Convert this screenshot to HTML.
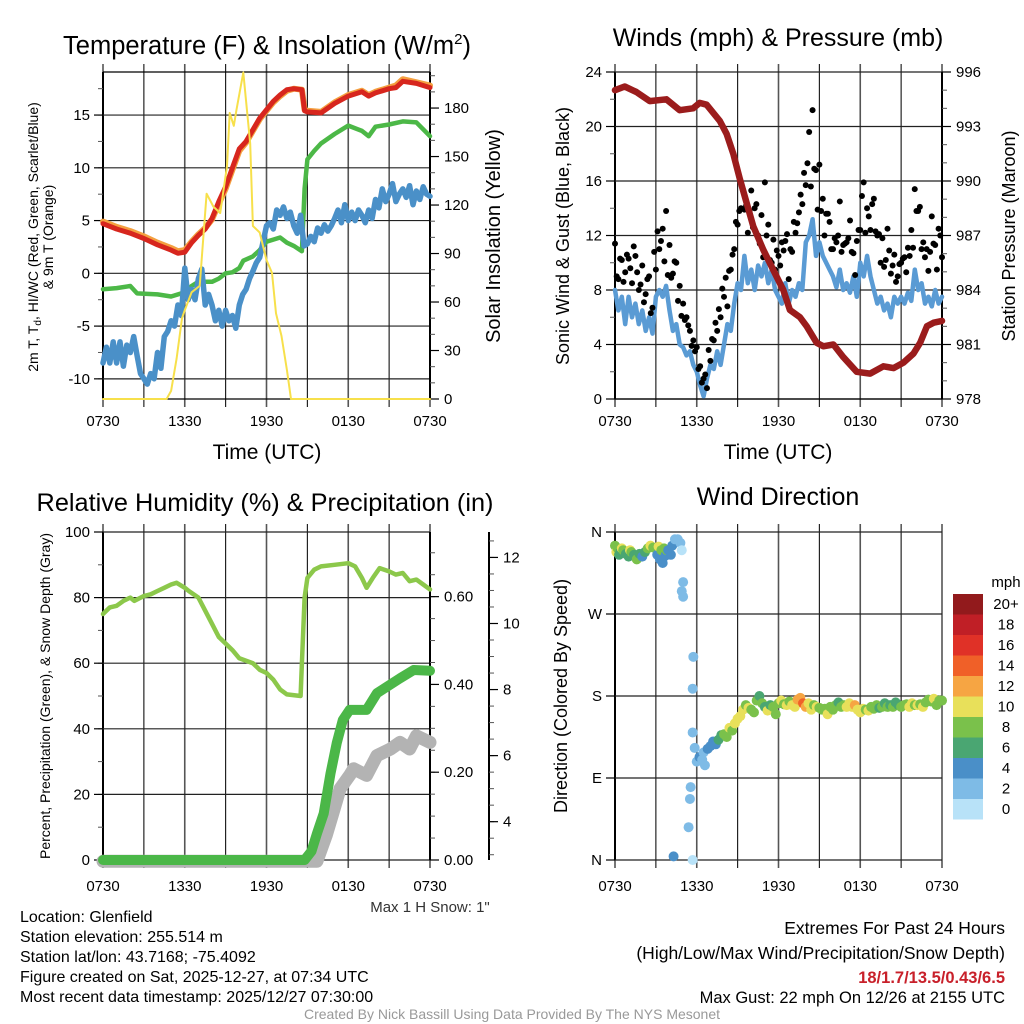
<!DOCTYPE html>
<html><head><meta charset="utf-8"><style>
html,body{margin:0;padding:0;background:#fff;}
svg{display:block;font-family:"Liberation Sans",Arial,sans-serif;}
</style></head><body>
<svg id="fig" width="1024" height="1024" viewBox="0 0 1024 1024" xmlns="http://www.w3.org/2000/svg">
<rect width="1024" height="1024" fill="#fff"/>
<g id="layer"></g>
<text x="267" y="54" font-size="25.5" text-anchor="middle">Temperature (F) &amp; Insolation (W/m<tspan dy="-10" font-size="15">2</tspan><tspan dy="10">)</tspan></text>
<text x="778" y="46" font-size="25" text-anchor="middle">Winds (mph) &amp; Pressure (mb)</text>
<text x="265" y="511" font-size="25.3" text-anchor="middle">Relative Humidity (%) &amp; Precipitation (in)</text>
<text x="778" y="505" font-size="25" text-anchor="middle">Wind Direction</text>
<text x="267" y="459" font-size="21" text-anchor="middle">Time (UTC)</text>
<text x="778" y="459" font-size="21" text-anchor="middle">Time (UTC)</text>
<text transform="translate(38,237) rotate(-90)" font-size="14" text-anchor="middle">2m T, T<tspan font-size="10" dy="3">d</tspan><tspan dy="-3">, HI/WC (Red, Green, Scarlet/Blue)</tspan></text>
<text transform="translate(53,237) rotate(-90)" font-size="14" text-anchor="middle">&amp; 9m T (Orange)</text>
<text transform="translate(500,236) rotate(-90)" font-size="20" text-anchor="middle">Solar Insolation (Yellow)</text>
<text transform="translate(569,236) rotate(-90)" font-size="18" text-anchor="middle">Sonic Wind &amp; Gust (Blue, Black)</text>
<text transform="translate(1015,236) rotate(-90)" font-size="18" text-anchor="middle">Station Pressure (Maroon)</text>
<text transform="translate(50,696) rotate(-90)" font-size="14" text-anchor="middle">Percent, Precipitation (Green), &amp; Snow Depth (Gray)</text>
<text transform="translate(567,696) rotate(-90)" font-size="18" text-anchor="middle">Direction (Colored By Speed)</text>
<text x="430" y="912" font-size="15" text-anchor="middle" fill="#333">Max 1 H Snow: 1"</text>
<g font-size="16">
<text x="20" y="922">Location: Glenfield</text>
<text x="20" y="942">Station elevation: 255.514 m</text>
<text x="20" y="962">Station lat/lon: 43.7168; -75.4092</text>
<text x="20" y="982">Figure created on Sat, 2025-12-27, at 07:34 UTC</text>
<text x="20" y="1002">Most recent data timestamp: 2025/12/27 07:30:00</text>
</g>
<g font-size="17.5" text-anchor="end">
<text x="1005" y="934">Extremes For Past 24 Hours</text>
<text x="1005" y="959">(High/Low/Max Wind/Precipitation/Snow Depth)</text>
<text x="1005" y="983" fill="#c8202a" font-weight="bold" font-size="16.5">18/1.7/13.5/0.43/6.5</text>
<text x="1005" y="1003" font-size="16.5">Max Gust: 22 mph On 12/26 at 2155 UTC</text>
</g>
<text x="512" y="1019" font-size="14" fill="#999" text-anchor="middle">Created By Nick Bassill Using Data Provided By The NYS Mesonet</text>
</svg>
<script>
// ---- data ----
var timeLabels = ["0730","1330","1930","0130","0730"];
var tempH = [0,1,2,3,4,5,5.5,6,6.5,7,7.5,8,8.5,9,9.5,10,10.5,11,11.5,12,12.5,13,13.5,14,14.6,14.8,15,16,17,18,19,19.5,20,21,21.5,22,23,24];
var tempV = [4.7,4.2,3.8,3.3,2.7,2.2,1.9,2.0,2.9,3.6,4.2,5.2,6.8,8.2,10,11.8,12.5,13.6,14.7,15.5,16.3,16.9,17.4,17.5,17.4,15.4,15.3,15.2,16.1,16.8,17.2,16.8,17.1,17.5,17.6,18.2,18.0,17.6];
var temp9mV = [4.9,4.4,4.0,3.5,2.9,2.4,2.1,2.2,3.0,3.7,4.3,5.1,6.6,8.0,9.8,11.6,12.4,13.5,14.6,15.4,16.2,16.8,17.3,17.5,17.4,15.5,15.4,15.3,16.2,16.9,17.3,16.9,17.2,17.6,17.8,18.4,18.1,17.8];
var dewH = [0,1,2,2.5,4,5,6,6.5,7,8,8.5,9,9.5,10,10.3,11,11.5,12,12.5,13,13.5,14,14.6,14.8,15,15.5,16,17,17.5,18,19,19.5,20,21,22,23,24];
var dewV = [-1.5,-1.4,-1.2,-1.9,-2.0,-2.2,-1.8,-1.2,-0.8,-0.8,-0.5,0,0.1,0.5,1.2,1.6,2.2,3.0,3.2,3.4,2.9,2.6,2.1,8.0,10.8,11.6,12.3,13.2,13.6,14.0,13.5,13.0,13.9,14.1,14.4,14.3,13.0];
// wind chill, every 15 min
var wcV = [-8.5,-7,-8.5,-6.5,-8.5,-6.5,-8.8,-6.8,-7.5,-6.0,-7.8,-9.5,-10,-10.5,-9.5,-10,-7.5,-9,-6.0,-5.5,-4.5,-5,-3.0,-4,0.5,-2.5,-1.5,-2.5,-0.5,0.4,-3.0,-2.0,-3.0,-4.5,-3.5,-5.0,-3.5,-4.5,-4,-5.2,-3.0,-2,-1.5,-0.5,0.2,1.0,1.5,3,4.5,4.8,4.2,6.0,5.5,6.3,5.2,5.8,4.5,3.8,5.5,2.6,2.8,3.5,3.0,4.3,3.8,4.6,4.0,4.5,5.2,6.0,4.8,6.5,5.0,5.8,5.0,6.0,5.5,4.8,6.0,5.2,7.0,6.2,8.0,6.8,7.5,8.5,6.8,7.5,8.0,7.2,8.3,6.5,7.8,7.0,8.2,7.5,7.3];
var solarH = [0,4.67,5.0,5.4,5.8,6.0,6.5,7.1,7.6,8.1,8.6,9.1,9.3,9.6,9.8,10.3,10.8,11.0,11.5,12.0,12.4,12.7,13.1,13.5,13.8,24];
var solarV = [0,0,5,25,50,55,66,70,127,119,115,144,177,169,179,202,158,107,103,86,78,53,39,18,0,0];
// sonic wind, every 15 min
var windV = [8,6.5,7.5,5.5,7.5,6,7,5.5,6.5,5,6,4.8,7.5,8,7.5,8.3,6.5,5.0,5.5,4.0,3.8,3.2,3.5,2.5,2.0,1.0,0.2,1.5,2.5,2.2,3.5,2.5,4.0,5.5,5.0,7.0,8.5,8.0,10.5,8.5,9.5,8.0,9.8,9.0,10,8.5,9.5,8.0,7.5,7.0,8.5,7.0,8,7.5,8.5,8.0,11.5,12.0,13.2,10.5,11.5,10.5,10.0,9.5,9.0,8.2,9.5,8.0,8.5,7.8,9.0,7.5,10.0,9.0,10.5,9.0,8.0,7.0,7.5,6.5,7.0,6.0,7.5,7.0,7.5,7.0,7.8,7.2,9.5,8.0,8.5,7.0,7.5,6.8,8.0,7.0,7.5];
var gustA = [11.4,8.8,10.2,9.3,10.3,8.5,10.5,8.0,9.8,7.7,9.0,6.7,9.5,11.0,12.5,13.8,11.3,9.2,10.0,8.3,7.0,6.0,5.0,4.3,3.8,2.4,1.5,0.8,2.8,4.3,5.0,6.0,7.5,6.8,9.5,11.0,12.8,14.0,13.9,12.2,15.3,14.0,12.0,13.5,15.9,12.8,10.0,9.5,10.5,11.5,11.6,8.8,10.8,12.2,13.7,14.3,15.7,19.6,21.2,16.8,17.2,14.7,13.6,13.0,11.0,11.5,14.5,11.3,11.5,13.1,10.7,11.6,12.4,15.9,14.0,12.4,14.7,12.0,10.0,9.7,12.5,9.2,10.6,9.0,10.0,10.4,11.1,12.4,15.4,13.8,11.0,10.4,9.4,13.4,11.3,12.5,10.4];
var gustB = [9.0,10.3,8.6,10.6,9.6,11.2,9.3,8.4,7.1,8.8,6.3,10.8,12.3,11.6,10.1,9.1,8.9,10.1,7.2,6.1,5.8,5.4,3.9,3.5,2.2,1.2,1.8,3.6,4.4,5.6,6.6,8.1,8.9,9.4,10.6,13.0,13.8,15.4,14.2,13.8,12.6,14.3,11.4,10.4,12.0,10.2,11.7,10.9,9.8,10.9,12.1,11.0,13.0,12.9,15.0,16.6,17.3,15.6,16.9,13.9,13.8,12.0,13.6,11.0,11.8,12.0,10.8,11.4,11.8,10.8,9.1,12.4,14.9,12.2,13.4,14.3,12.3,12.1,11.8,10.2,10.9,9.8,8.6,9.9,10.3,9.3,10.5,11.1,13.8,14.1,11.5,11.0,10.8,11.4,9.5,12.0];
var presH = [0,0.71,1.57,2.55,3.77,4.75,5.73,6.22,6.72,7.70,8.19,8.68,9.17,9.66,10.15,10.89,11.62,12.35,12.84,13.58,14.07,14.80,15.29,16.03,16.76,17.74,18.72,19.70,20.44,21.17,21.91,22.40,22.89,23.38,24];
var presV = [995.0,995.2,994.9,994.4,994.5,993.9,994.0,994.3,994.2,993.3,992.6,991.5,990.1,988.8,987.5,986.2,985.1,984.0,982.9,982.5,982.0,981.1,980.9,981.0,980.3,979.5,979.4,979.8,979.7,980.0,980.5,981.1,982.0,982.2,982.3];
var rhH = [0,0.5,1,1.5,2,2.3,3,3.5,4,4.5,5,5.4,6,6.3,7,7.5,8,8.5,9,9.5,10,11,11.5,12,12.5,13,13.5,14.5,14.6,14.8,15,15.5,16,17,18,18.5,19,19.35,19.8,20.3,21,21.5,22,22.5,23,23.5,24];
var rhV = [75,77,77.5,79,80,79,80.5,81,82,83,84,84.5,83,82,80,76,72,68,66,64,61.5,60,58,57,55,52,50.5,50,60,80,86,88.5,89.5,90,90.5,89.5,86,83,86,89,88,87,87.5,85,85.5,84,82.5];
var precipH = [0,14.8,15.3,15.7,16.2,16.7,17.15,17.6,18.1,19.35,20.1,21.1,21.8,22.8,24];
var precipV = [0,0,0.02,0.06,0.106,0.197,0.266,0.319,0.342,0.342,0.38,0.40,0.414,0.433,0.431];
var snowH = [0,15.7,16.4,16.9,17.4,18.1,18.4,19.35,20.1,21.1,21.8,22.5,23,24];
var snowV = [2.8,2.8,3.6,4.3,5.0,5.4,5.6,5.4,6.0,6.2,6.4,6.2,6.6,6.4];
var dirH = [0.0,0.1,0.2,0.3,0.4,0.5,0.6,0.8,1.0,1.1,1.2,1.4,1.6,1.8,2.0,2.2,2.4,2.6,2.8,3.0,3.1,3.2,3.3,3.4,3.5,3.6,3.7,3.8,3.9,4.1,4.2,4.3,4.4,4.6,4.8,4.9,5.0,4.9,5.0,5.75,5.7,5.7,5.85,5.55,5.5,5.4,5.7,6.0,6.2,6.4,6.5,6.6,6.8,7.0,7.2,7.4,7.6,7.8,8.0,8.2,8.4,8.6,8.8,9.0,9.2,9.4,9.6,9.8,10.0,10.2,10.4,10.6,10.8,11.0,11.2,11.4,11.6,11.8,12.0,12.2,12.4,12.6,12.8,13.0,13.2,13.4,13.6,13.8,14.0,14.2,14.4,14.6,14.8,15.0,15.2,15.4,15.6,15.8,16.0,16.2,16.4,16.6,16.8,17.0,17.2,17.4,17.6,17.8,18.0,18.2,18.4,18.6,18.8,19.0,19.2,19.4,19.6,19.8,20.0,20.2,20.4,20.6,20.8,21.0,21.2,21.4,21.6,21.8,22.0,22.2,22.4,22.6,22.8,23.0,23.2,23.4,23.6,23.8,24.0];
var dirDeg = [345,338,342,335,338,342,340,336,333,340,338,335,330,336,333,338,342,345,343,342,335,344,330,340,326,342,334,340,340,335,345,4,352,352,348,340,305,295,289,223,188,140,123,80,67,36,0,108,113,110,118,104,122,125,130,127,132,137,138,135,145,142,150,155,158,165,170,167,165,162,175,180,172,168,164,170,168,160,172,175,171,170,174,170,168,176,178,172,168,172,165,170,168,167,165,166,160,168,165,170,173,168,170,168,172,168,170,165,162,166,165,164,168,166,170,167,168,172,168,170,168,173,170,168,170,171,168,172,170,170,171,168,173,176,174,177,170,175,175];
var dirSpd = [7,9,7,6,6,9,8,6,6,9,7,6,8,6,4,5,8,9,8,8,4,9,4,8,4,7,3,8,3,3,4,3,2,2,1,0,2,1,2,1,1,1,1,2,1,1,0,2,3,2,1,2,3,4,4,4,5,6,8,7,9,8,10,9,10,10,8,10,8,7,7,6,8,6,9,6,8,7,8,10,8,9,8,10,9,11,12,13,12,10,9,8,9,8,8,8,10,8,7,8,6,8,8,9,10,10,11,10,10,9,8,9,7,8,7,6,7,6,7,6,7,6,6,8,8,8,9,10,8,9,8,9,7,8,8,9,7,8,8];
var speedLabels = ["20+","18","16","14","12","10","8","6","4","2","0"];
var speedColors = ["#b8e2f8","#7ebbe6","#4a8fc8","#4aa672","#7ac14b","#e8e05a","#f6a543","#f06028","#e03127","#c01f26","#921a1c"];

// ---- helpers ----
var NS="http://www.w3.org/2000/svg";
var layer=document.getElementById('layer');
function mk(tag,attrs,name,parent){
  var el=document.createElementNS(NS,tag);
  for(var k in attrs) el.setAttribute(k,attrs[k]);
  
  
  (parent||layer).appendChild(el);
  return el;
}
function txt(x,y,s,size,anchor,name,fill){
  var t=mk('text',{x:x,y:y,'font-size':size,'text-anchor':anchor,fill:fill||'#000'},name);
  t.textContent=s; return t;
}
function P(x0,x1,y0,y1){return {x0:x0,x1:x1,y0:y0,y1:y1};}
function xs(p,h){return p.x0+h/24*(p.x1-p.x0);}
function ys(p,v,mn,mx){return p.y1-(v-mn)/(mx-mn)*(p.y1-p.y0);}
function pathD(p,H,V,mn,mx){var d='';for(var i=0;i<V.length;i++){var h=H?H[i]:i*0.25;d+=(i?'L':'M')+xs(p,h).toFixed(1)+','+ys(p,V[i],mn,mx).toFixed(1);}return d;}
function line(p,H,V,mn,mx,color,w,name){return mk('path',{d:pathD(p,H,V,mn,mx),fill:'none',stroke:color,'stroke-width':w,'stroke-linejoin':'round','stroke-linecap':'round'},name);}

function grid(p,name,labelY){
  for(var h=0;h<=24;h+=3){
    var x=xs(p,h);
    mk('line',{x1:x,y1:p.y0-8,x2:x,y2:p.y1+8,stroke:(h%6==0?'#555':'#111'),'stroke-width':(h%6==0?1.6:1.1)},name+'-vgrid');
  }
  for(var i=0;i<timeLabels.length;i++){
    txt(xs(p,i*6),labelY||p.y1+27,timeLabels[i],15,'middle',name+'-x-tick-label');
  }
}
function yaxis(p,mn,mx,ticks,labels,minorStep,side,name,grid){
  var x=side=='left'?p.x0:p.x1, dir=side=='left'?-1:1;
  mk('line',{x1:x,y1:p.y0,x2:x,y2:p.y1,stroke:'#000','stroke-width':2},name+'-spine');
  if(minorStep){
    for(var v=Math.ceil(mn/minorStep)*minorStep;v<=mx+1e-9;v+=minorStep){
      var y=ys(p,v,mn,mx);
      mk('line',{x1:x,y1:y,x2:x+dir*5,y2:y,stroke:'#555','stroke-width':1},name+'-minor-tick');
    }
  }
  for(var i=0;i<ticks.length;i++){
    var y=ys(p,ticks[i],mn,mx);
    if(grid) mk('line',{x1:p.x0,y1:y,x2:p.x1,y2:y,stroke:'#222','stroke-width':1.2},name+'-hgrid');
    mk('line',{x1:x,y1:y,x2:x+dir*9,y2:y,stroke:'#000','stroke-width':1.2},name+'-tick');
    txt(side=='left'?x-13:x+14,y+5,labels[i],15,side=='left'?'end':'start',name+'-tick-label');
  }
}

// ---- panel 1: temperature ----
var p1=P(103,430,72,399), t1=-11.91, t2=19.08, s2=202.3;
grid(p1,'temp');
yaxis(p1,t1,t2,[-10,-5,0,5,10,15],['-10','-5','0','5','10','15'],2.5,'left','temp-y',true);
yaxis(p1,0,s2,[0,30,60,90,120,150,180],['0','30','60','90','120','150','180'],10,'right','solar-y',false);
mk('line',{x1:p1.x0,y1:p1.y0,x2:p1.x1,y2:p1.y0,stroke:'#000','stroke-width':1.2},'temp-top-border');
mk('line',{x1:p1.x0,y1:p1.y1,x2:p1.x1,y2:p1.y1,stroke:'#000','stroke-width':1.2},'temp-bottom-border');
line(p1,dewH,dewV,t1,t2,'#4cb847',4.5,'dewpoint-line');
line(p1,null,wcV,t1,t2,'#4a90c8',5.5,'windchill-line');
line(p1,tempH,temp9mV,t1,t2,'#f4a040',6,'temp-9m-line');
line(p1,tempH,tempV,t1,t2,'#d7261e',5,'temp-2m-line');
line(p1,solarH,solarV,0,s2,'#f7e04b',2,'solar-line');

// ---- panel 2: winds ----
var p2=P(615,942,72,399);
grid(p2,'wind');
yaxis(p2,0,24,[0,4,8,12,16,20,24],['0','4','8','12','16','20','24'],2,'left','wind-y',true);
yaxis(p2,978,996,[978,981,984,987,990,993,996],['978','981','984','987','990','993','996'],1,'right','pressure-y',false);
mk('line',{x1:p2.x0,y1:p2.y1,x2:p2.x1,y2:p2.y1,stroke:'#000','stroke-width':1.2},'wind-bottom-border');
line(p2,null,windV,0,24,'#5a9bd4',4.5,'sonic-wind-line');
for(var i=0;i<gustA.length;i++){
  var c=mk('circle',{cx:xs(p2,i*0.25),cy:ys(p2,gustA[i],0,24),r:3,fill:'#000'},'gust-point');
}
for(var i=0;i<gustB.length;i++){
  var c2=mk('circle',{cx:xs(p2,i*0.25+0.125),cy:ys(p2,gustB[i],0,24),r:3,fill:'#000'},'gust-point');
}
line(p2,presH,presV,978,996,'#9b1c1c',6.5,'pressure-line');

// ---- panel 3: humidity / precip ----
var p3=P(103,430,532,860), pmax=0.7473, snMin=2.84, snMax=12.77;
grid(p3,'rh',891);
yaxis(p3,0,100,[0,20,40,60,80,100],['0','20','40','60','80','100'],10,'left','rh-y',true);
yaxis(p3,0,pmax,[0,0.2,0.4,0.6],['0.00','0.20','0.40','0.60'],0.05,'right','precip-y',false);
var p3s=P(430,489,532,860);
yaxis(p3s,snMin,snMax,[4,6,8,10,12],['4','6','8','10','12'],0.5,'right','snow-y',false);
line(p3,snowH,snowV,snMin,snMax,'#b3b3b3',13,'snow-depth-line');
line(p3,precipH,precipV,0,pmax,'#4bb748',10,'precip-line');
line(p3,rhH,rhV,0,100,'#8cc84b',4.5,'rh-line');

// ---- panel 4: wind direction ----
var p4=P(615,942,532,860);
grid(p4,'dir',891);
yaxis(p4,0,360,[0,90,180,270,360],['N','E','S','W','N'],0,'left','dir-y',true);
for(var i=0;i<dirH.length;i++){
  var bin=Math.min(10,Math.max(0,Math.floor((dirSpd[i]+1)/2)));
  var d=mk('circle',{cx:xs(p4,dirH[i]),cy:ys(p4,dirDeg[i],0,360),r:5,fill:speedColors[bin]},'direction-point');
}
txt(1006,587,'mph',15,'middle','colorbar-title');
for(var i=0;i<speedLabels.length;i++){
  var y=594+i*20.5;
  var r=mk('rect',{x:953,y:y,width:30,height:20.5,fill:speedColors[10-i]},'colorbar-box');
  txt(1006,y+15,speedLabels[i],15,'middle','colorbar-label');
}
</script>
</body></html>
